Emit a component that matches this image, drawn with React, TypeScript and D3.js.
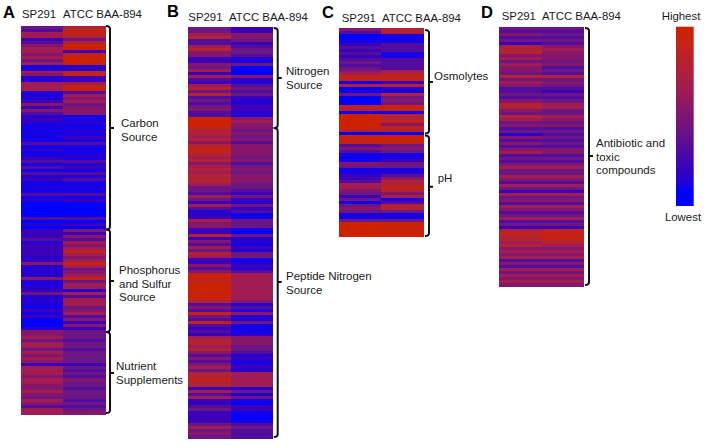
import React, { useRef, useEffect } from 'react';
import * as d3 from 'd3';

// expression level per row, 0 = lowest, 10 = highest
const spA = [5,4,7,7,3,4,6,7,7,6,7,5,7,1,2,7,6,2,2,7,7,7,2,1,2,3,6,3,6,4,2,3,2,
  1,1,1,1,1,1,4,1,2,1,1,3,4,1,4,1,4,2,3,1,1,1,1,4,1,2,0,0,0,0,0,4,0,2,0,
  3,3,3,4,2,3,3,3,3,2,3,6,2,2,2,2,6,2,1,2,3,5,2,2,2,1,1,3,1,3,0,0,0,2,
  6,6,7,5,7,7,5,7,6,7,6,3,7,7,7,6,7,7,6,6,7,6,5,7,6,4,7,7];
const atccA = [8,9,9,8,5,8,10,10,3,9,10,10,10,2,2,9,9,3,3,7,10,9,4,7,6,7,5,6,6,6,1,1,2,
  1,1,2,1,3,1,4,1,1,1,2,1,4,2,3,1,4,2,4,1,1,1,1,4,1,3,0,0,0,0,0,4,0,3,0,
  6,3,6,4,7,6,7,9,7,6,7,10,7,5,6,7,9,5,7,7,2,7,4,7,7,7,5,6,7,4,6,3,6,3,
  5,5,5,4,5,5,4,5,5,5,5,3,5,4,5,4,6,5,5,4,5,5,5,4,5,4,5,6];

const spB = [5,5,7,8,4,4,7,8,6,6,3,3,6,5,7,3,7,4,3,7,8,5,8,4,5,4,5,6,4,4,
  10,10,10,9,8,8,7,8,6,8,9,9,8,7,8,6,7,8,7,8,8,8,7,5,5,4,7,5,3,7,4,2,2,3,
  7,6,6,3,3,8,3,6,4,7,5,8,7,3,3,6,4,6,9,10,9,9,10,10,9,10,9,8,4,6,4,9,5,4,9,4,3,4,3,
  7,8,8,7,8,6,4,6,4,6,7,5,8,8,9,8,8,3,7,4,7,3,3,4,5,3,3,3,3,5,7,5,6,5];
const atccB = [3,3,6,6,5,3,4,5,5,4,2,1,5,0,0,0,6,2,2,4,5,4,5,3,2,2,3,3,2,2,
  6,7,6,6,5,6,5,6,4,6,6,6,6,5,6,4,5,6,5,6,6,6,5,5,4,3,5,3,2,5,3,4,0,1,
  5,5,5,1,0,5,2,2,1,3,2,5,5,1,1,3,2,4,7,7,7,7,7,7,7,7,7,6,2,4,2,6,2,2,5,1,1,1,2,
  6,6,6,5,5,4,2,3,1,2,3,2,7,7,7,7,7,2,5,2,5,1,0,3,3,1,0,0,1,4,5,4,4,4];

const spC = [6,4,0,0,1,3,4,3,4,3,4,5,4,5,6,7,9,9,1,8,0,1,5,0,0,0,9,8,1,10,
  10,10,10,10,8,0,10,9,9,4,6,4,1,0,1,6,5,1,1,3,3,4,7,7,6,5,3,5,1,5,
  6,5,1,1,5,10,10,10,10,10];
const atccC = [8,8,1,1,1,4,4,4,1,1,4,4,4,4,7,8,9,9,3,8,2,1,8,5,6,5,10,9,1,8,
  8,9,6,9,8,0,10,10,9,5,6,5,1,1,3,5,5,1,2,4,6,8,8,9,8,6,7,1,4,8,
  8,5,1,1,5,10,10,9,10,10];

const spD = [5,4,6,4,5,3,8,8,8,6,7,5,7,6,6,5,8,5,7,6,4,4,5,4,6,8,8,6,5,8,
  7,5,6,4,5,2,6,4,6,4,6,7,4,5,4,6,7,5,5,7,6,4,7,5,3,7,5,6,4,7,
  6,4,5,7,4,5,3,8,9,8,8,7,8,6,7,6,7,4,6,4,7,5,7,6,7,6];
const atccD = [5,4,5,4,5,4,6,7,6,6,6,5,6,4,5,4,8,5,6,5,4,3,5,4,5,7,7,5,5,7,
  6,5,6,4,5,4,5,4,5,4,6,6,4,5,4,6,7,5,5,7,6,4,7,5,3,7,5,6,4,7,
  6,4,5,7,4,5,3,9,9,9,9,8,7,6,7,6,7,4,6,4,7,5,7,6,7,6];

const columnNames = ['SP291', 'ATCC BAA-894'];
const levelStops = [0, 3, 5, 7, 9, 10];
const levelColours = ['#0000ff', '#3a04b8', '#6c1284', '#a01c52', '#c42418', '#cc2200'];
const legendStops = [10, 9, 7, 5, 3, 1.5, 0, 0];
const legendOffsets = [0, 0.1, 0.35, 0.58, 0.78, 0.88, 0.91, 1];

const panels = [
  {
    letter: 'A', letterX: 3, letterY: 18, x0: 20.6, x1: 106, y0: 25.7, y1: 414, headY: 18,
    sp: spA, atcc: atccA, bracketX: 110, headX: [22, 63],
    brackets: [
      { top: 26, bottom: 229.5, mid: 128, lx: 121, ly: 127, lines: ['Carbon', 'Source'] },
      { top: 229.5, bottom: 332, mid: 281, lx: 119, ly: 274, lines: ['Phosphorus', 'and Sulfur', 'Source'] },
      { top: 332, bottom: 413, mid: 373, lx: 116, ly: 370, lines: ['Nutrient', 'Supplements'] },
    ],
  },
  {
    letter: 'B', letterX: 167, letterY: 17, x0: 187.7, x1: 273.3, y0: 27, y1: 438, headY: 21,
    sp: spB, atcc: atccB, bracketX: 277.7, headX: [188.3, 229],
    brackets: [
      { top: 28, bottom: 128, mid: 78, lx: 286, ly: 75, lines: ['Nitrogen', 'Source'] },
      { top: 128, bottom: 437, mid: 282, lx: 286, ly: 280, lines: ['Peptide Nitrogen', 'Source'] },
    ],
  },
  {
    letter: 'C', letterX: 322, letterY: 18, x0: 338.5, x1: 424.3, y0: 27.7, y1: 236.7, headY: 22,
    sp: spC, atcc: atccC, bracketX: 429, headX: [341.7, 382],
    brackets: [
      { top: 30, bottom: 133.5, mid: 82, lx: 434, ly: 80, lines: ['Osmolytes'] },
      { top: 135.5, bottom: 236, mid: 186.7, lx: 437.7, ly: 182, lines: ['pH'] },
    ],
  },
  {
    letter: 'D', letterX: 481, letterY: 18, x0: 498.7, x1: 584.3, y0: 27.3, y1: 286, headY: 20,
    sp: spD, atcc: atccD, bracketX: 589, headX: [501.7, 542],
    brackets: [
      { top: 28, bottom: 285, mid: 156, lx: 596, ly: 147, lines: ['Antibiotic and', 'toxic', 'compounds'] },
    ],
  },
];

const App: React.FC = () => {
  const svgRef = useRef<SVGSVGElement | null>(null);

  useEffect(() => {
    const svg = d3.select(svgRef.current);
    svg.selectAll('*').remove();

    const colour = d3.scaleLinear<string>().domain(levelStops).range(levelColours);
    const defs = svg.append('defs');

    // the original figure is a soft, resampled image
    defs.append('filter')
      .attr('id', 'soft')
      .append('feGaussianBlur')
      .attr('stdDeviation', '0.35 0.45');

    panels.forEach(p => {
      const g = svg.append('g');
      const xBand = d3.scaleBand<number>().domain([0, 1]).range([p.x0, p.x1]);
      const cells = g.append('g').attr('filter', 'url(#soft)');

      [p.sp, p.atcc].forEach((col, c) => {
        const yBand = d3.scaleBand<number>().domain(d3.range(col.length)).range([p.y0, p.y1]);
        cells.append('g')
          .attr('shape-rendering', 'crispEdges')
          .selectAll('rect')
          .data(col)
          .enter().append('rect')
          .attr('x', xBand(c) as number)
          .attr('y', (d, i) => yBand(i) as number)
          .attr('width', xBand.bandwidth())
          .attr('height', yBand.bandwidth() + 0.5)
          .attr('fill', d => colour(d));
      });

      // column headers
      columnNames.forEach((name, i) => {
        g.append('text')
          .attr('x', p.headX[i])
          .attr('y', p.headY)
          .attr('font-size', 11.4)
          .attr('fill', '#1a1a1a')
          .text(name);
      });

      // panel letter
      g.append('text')
        .attr('x', p.letterX)
        .attr('y', p.letterY)
        .attr('font-size', 16.5)
        .attr('font-weight', 'bold')
        .text(p.letter);

      // brackets and their labels
      p.brackets.forEach(b => {
        const x = p.bracketX;
        const path = d3.path();
        path.moveTo(x - 4, b.top);
        path.quadraticCurveTo(x, b.top, x, b.top + 3);
        path.lineTo(x, b.bottom - 3);
        path.quadraticCurveTo(x, b.bottom, x - 4, b.bottom);
        path.moveTo(x, b.mid);
        path.lineTo(x + 4, b.mid);
        g.append('path')
          .attr('d', path.toString())
          .attr('fill', 'none')
          .attr('stroke', '#111')
          .attr('stroke-width', 2);

        b.lines.forEach((line, i) => {
          g.append('text')
            .attr('x', b.lx)
            .attr('y', b.ly + i * 13.6)
            .attr('font-size', 11.5)
            .attr('fill', '#1a1a1a')
            .text(line);
        });
      });
    });

    // colour key
    const grad = defs.append('linearGradient')
      .attr('id', 'key')
      .attr('x1', 0).attr('x2', 0).attr('y1', 0).attr('y2', 1);
    grad.selectAll('stop')
      .data(legendStops)
      .enter().append('stop')
      .attr('offset', (d, i) => legendOffsets[i])
      .attr('stop-color', d => colour(d));

    svg.append('rect')
      .attr('x', 676)
      .attr('y', 26.7)
      .attr('width', 17.7)
      .attr('height', 179.3)
      .attr('fill', 'url(#key)');

    svg.append('text').attr('x', 681).attr('y', 20).attr('text-anchor', 'middle').attr('font-size', 11.4).attr('fill', '#1a1a1a').text('Highest');
    svg.append('text').attr('x', 683).attr('y', 221).attr('text-anchor', 'middle').attr('font-size', 11.4).attr('fill', '#1a1a1a').text('Lowest');
  }, []);

  return (
    <svg
      ref={svgRef}
      width={708}
      height={447}
      style={{ position: 'absolute', left: 0, top: 0, fontFamily: '"Liberation Sans", Arial, sans-serif', background: '#fff' }}
    />
  );
};

export default App;
